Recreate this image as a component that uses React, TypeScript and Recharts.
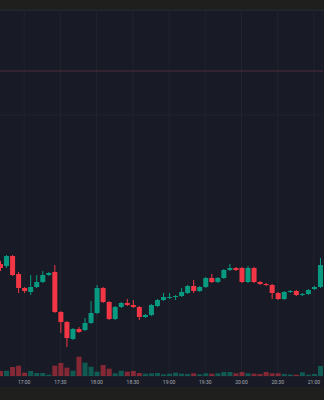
import React from 'react';
import { ComposedChart, Bar, XAxis, YAxis, CartesianGrid, ReferenceLine, Cell } from 'recharts';

const times = [
  '16:40', '16:45', '16:50', '16:55', '17:00', '17:05', '17:10', '17:15', '17:20', '17:25',
  '17:30', '17:35', '17:40', '17:45', '17:50', '17:55', '18:00', '18:05', '18:10', '18:15',
  '18:20', '18:25', '18:30', '18:35', '18:40', '18:45', '18:50', '18:55', '19:00', '19:05',
  '19:10', '19:15', '19:20', '19:25', '19:30', '19:35', '19:40', '19:45', '19:50', '19:55',
  '20:00', '20:05', '20:10', '20:15', '20:20', '20:25', '20:30', '20:35', '20:40', '20:45',
  '20:50', '20:55', '21:00', '21:05',
];

const opens = [
  136, 134, 144, 126, 112, 108, 113, 118, 125, 128,
  88, 78, 61, 71, 70, 77, 87, 112, 98, 81,
  93, 97, 95, 93, 83, 85, 94, 100, 102, 103,
  104, 107, 114, 109, 113, 122, 118, 122, 130, 132,
  132, 118, 132, 118, 116, 115, 107, 101, 108, 109,
  105, 106, 111, 113,
];
const highs = [
  139, 145, 145, 128, 113, 125, 125, 129, 128, 135,
  89, 79, 72, 73, 82, 99, 115, 113, 99, 94,
  98, 101, 100, 94, 86, 96, 101, 107, 107, 105,
  112, 115, 120, 114, 123, 126, 123, 131, 136, 133,
  133, 134, 133, 119, 117, 116, 108, 109, 110, 110,
  107, 111, 114, 142,
];
const lows = [
  129, 132, 124, 107, 107, 105, 112, 117, 124, 87,
  67, 53, 60, 67, 69, 76, 86, 97, 80, 80,
  92, 94, 92, 80, 82, 84, 93, 99, 101, 100,
  103, 106, 107, 108, 112, 117, 117, 121, 129, 129,
  117, 117, 117, 115, 114, 101, 100, 100, 107, 104,
  104, 105, 110, 112,
];
const closes = [
  132, 144, 125, 112, 109, 113, 118, 125, 127, 88,
  78, 62, 71, 68, 77, 87, 112, 98, 81, 93,
  97, 95, 93, 83, 85, 95, 100, 103, 103, 104,
  108, 114, 109, 113, 122, 118, 122, 130, 132, 130,
  118, 132, 118, 116, 115, 107, 101, 108, 109, 105,
  106, 110, 113, 135,
];
const volumes = [
  500, 530, 900, 1030, 330, 500, 300, 300, 130, 1030,
  1300, 830, 530, 1930, 1330, 930, 430, 1100, 730, 270,
  530, 430, 500, 300, 230, 270, 300, 170, 230, 330,
  230, 200, 270, 170, 270, 230, 270, 400, 400, 270,
  400, 270, 230, 200, 400, 270, 270, 200, 150, 130,
  370, 130, 200, 1000,
];

const tickLabels = ['17:00', '17:30', '18:00', '18:30', '19:00', '19:30', '20:00', '20:30', '21:00'];
const gridPrices = [285];
const refPrice = 329;

const data = times.map((t, i) => ({
  time: t,
  open: opens[i],
  high: highs[i],
  low: lows[i],
  close: closes[i],
  volume: volumes[i],
}));

const UP = '#089981';
const DOWN = '#f23645';

const Candle = (props: any) => {
  const { x, y, width, height, payload } = props;
  if (!payload) return null;
  const { open, close, high, low } = payload;
  const top = Math.min(y, y + height);
  const h = Math.abs(height);
  const ratio = h / (high - low || 1);
  const bodyTop = top + (high - Math.max(open, close)) * ratio;
  const bodyH = Math.max(1, Math.abs(open - close) * ratio);
  const cx = x + width / 2;
  const color = close >= open ? UP : DOWN;
  return (
    <g>
      <line x1={cx} x2={cx} y1={top} y2={top + h} stroke={color} strokeWidth={1} />
      <rect x={x} y={bodyTop} width={width} height={bodyH} fill={color} />
    </g>
  );
};

export default function App() {
  return (
    <div
      style={{
        position: 'absolute',
        left: 0,
        top: 0,
        width: 324,
        height: 400,
        overflow: 'hidden',
        background: '#1f201e',
      }}
    >
      <div
        style={{
          position: 'absolute',
          left: 0,
          top: 10,
          width: 324,
          height: 377,
          background: '#181b25',
          borderTop: '1px solid #262833',
          boxSizing: 'border-box',
        }}
      />
      <div style={{ position: 'absolute', left: -2.7, top: 0 }}>
        <ComposedChart
          width={326}
          height={400}
          data={data}
          margin={{ top: 10, right: 0, bottom: 0, left: 0 }}
        >
          <CartesianGrid
            xAxisId="x"
            yAxisId="p"
            stroke="#20242f"
            strokeWidth={1}
          />
          <XAxis
            xAxisId="x"
            dataKey="time"
            ticks={tickLabels}
            axisLine={false}
            tickLine={false}
            tickSize={0}
            tickMargin={4}
            height={24}
            interval={0}
            tick={{ fontSize: 5, fill: '#a7aab3', fontFamily: 'Roboto' }}
          />
          <XAxis xAxisId="xv" dataKey="time" hide />
          <YAxis yAxisId="p" domain={[24, 390]} ticks={gridPrices} hide />
          <YAxis yAxisId="v" domain={[0, 36600]} hide />
          <ReferenceLine xAxisId="x" yAxisId="p" y={refPrice} stroke="#4f2a3b" strokeWidth={1} />
          <Bar
            xAxisId="xv"
            yAxisId="v"
            dataKey="volume"
            barSize={5}
            isAnimationActive={false}
          >
            {data.map((d, i) => (
              <Cell key={i} fill={d.close >= d.open ? UP : DOWN} fillOpacity={0.5} />
            ))}
          </Bar>
          <Bar
            xAxisId="x"
            yAxisId="p"
            dataKey={(d: any) => [d.low, d.high]}
            barSize={5}
            shape={Candle}
            isAnimationActive={false}
          />
        </ComposedChart>
      </div>
    </div>
  );
}
